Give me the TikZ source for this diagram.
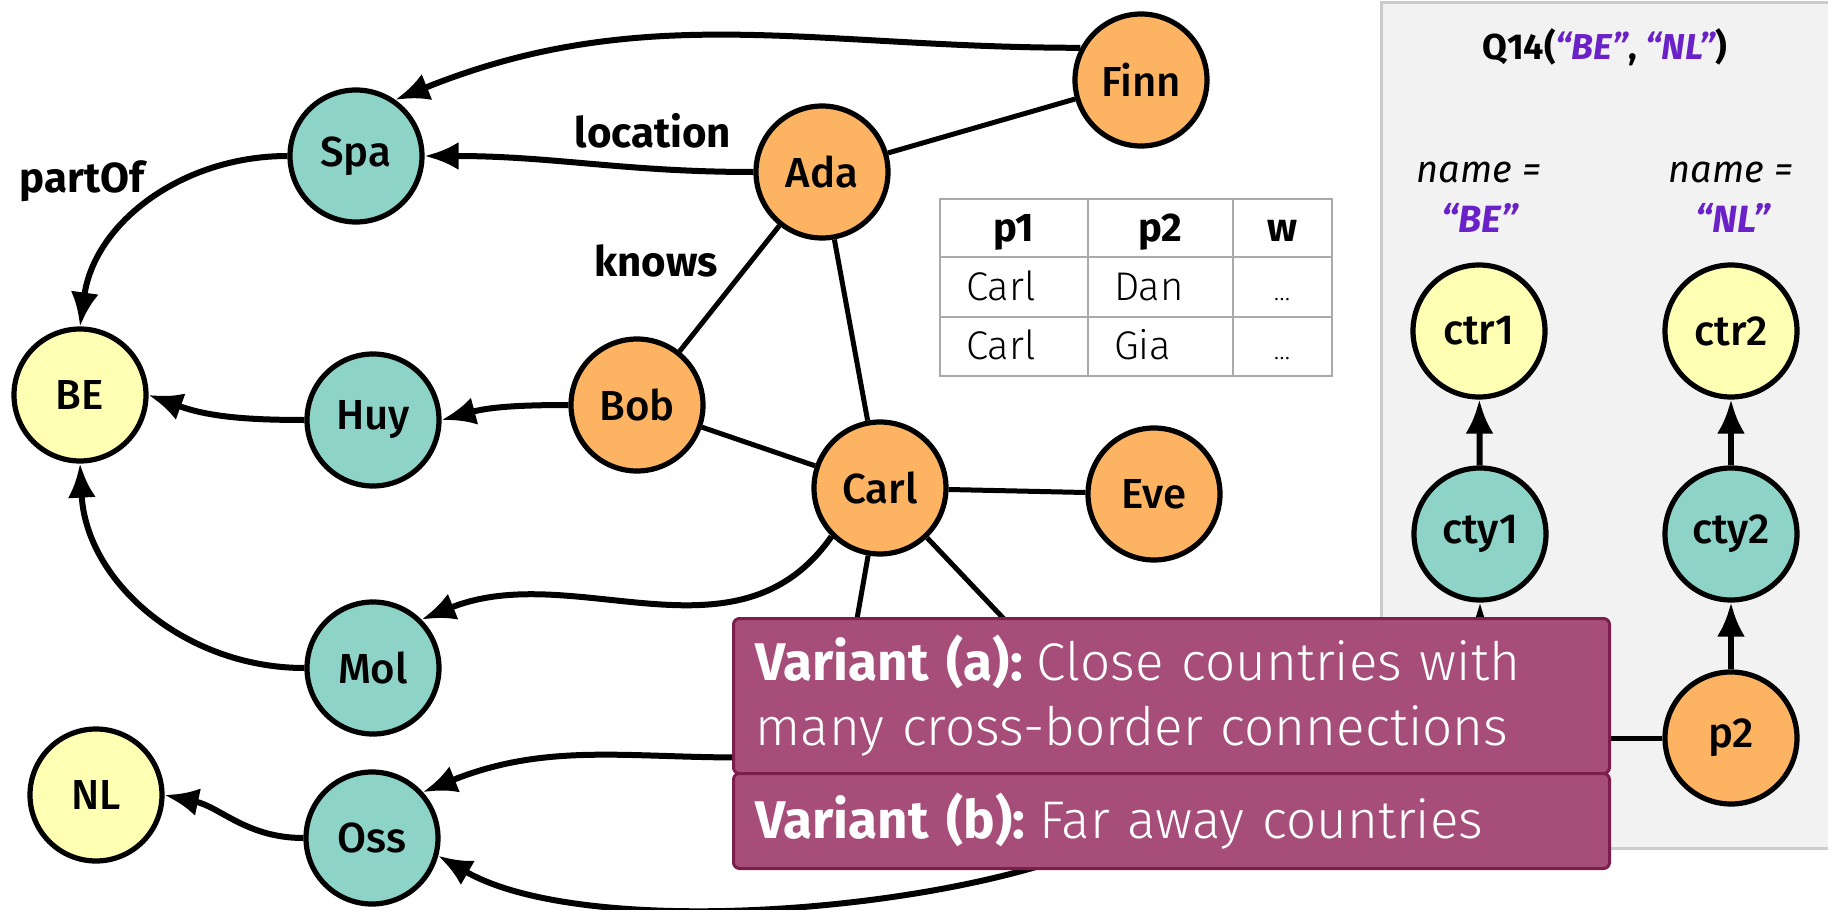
\documentclass[tikz,border=0pt]{standalone}
\usepackage{fontspec}
\setmainfont{Fira Sans}
\newfontfamily\medfont{Fira Sans Medium}
\newfontfamily\lightfont{Fira Sans Light}
\usetikzlibrary{arrows.meta}
\definecolor{personcol}{HTML}{FDB462}
\definecolor{citycol}{HTML}{8DD3C7}
\definecolor{countrycol}{HTML}{FFFFB3}
\definecolor{varfill}{HTML}{A64D79}
\definecolor{vardraw}{HTML}{7B1E4E}
\definecolor{paramcol}{HTML}{6A22C8}
\definecolor{panelfill}{HTML}{F2F2F2}
\definecolor{panelline}{HTML}{CCCCCC}
\definecolor{tabline}{HTML}{AAAAAA}

\begin{document}
\begin{tikzpicture}[x=0.5pt,y=0.5pt,
  vertex/.style={circle,draw=black,line width=2.6pt,minimum size=66pt,
    inner sep=0pt,font=\medfont\fontsize{21}{25}\selectfont},
  person/.style={vertex,fill=personcol},
  city/.style={vertex,fill=citycol},
  country/.style={vertex,fill=countrycol},
  rel/.style={line width=3pt,-{Latex[length=17pt,width=14pt]}},
  knows/.style={line width=2.5pt},
  edgelabel/.style={font=\bfseries\fontsize{21}{25}\selectfont},
  tabhead/.style={font=\bfseries\fontsize{20}{24}\selectfont,anchor=base},
  tabcell/.style={font=\lightfont\fontsize{20}{24}\selectfont,anchor=base west},
  tabdots/.style={font=\lightfont\fontsize{13}{16}\selectfont,anchor=base},
  varbox/.style={draw=vardraw,fill=varfill,line width=1.5pt,rounded corners=3pt,
    anchor=north west,inner xsep=11pt,text width=416pt,align=left,
    text=white,font=\fontsize{26.5}{32.5}\selectfont}]

  \useasboundingbox (0,0) rectangle (1828,-910);

  %% query panel
  \draw[panelline,fill=panelfill,line width=1.5pt] (1381,-2) rectangle (1840,-848);

  %% result table
  \draw[tabline,line width=1.2pt,fill=white] (940,-199) rectangle (1332,-376);
  \draw[tabline,line width=1.2pt] (1088,-199) -- (1088,-376)
    (1233,-199) -- (1233,-376) (940,-257) -- (1332,-257) (940,-317) -- (1332,-317);
  \node[tabhead] (tp1) at (1014,-241) {p1};
  \node[tabhead] (tp2) at (1160,-241) {p2};
  \node[tabhead] (tw) at (1282,-241) {w};
  \node[tabcell] (ra1) at (959,-300) {Carl};
  \node[tabcell] (ra2) at (1107,-300) {Dan};
  \node[tabdots] (ra3) at (1282,-300) {…};
  \node[tabcell] (rb1) at (959,-359) {Carl};
  \node[tabcell] (rb2) at (1107,-359) {Gia};
  \node[tabdots] (rb3) at (1282,-359) {…};

  %% data graph
  \node[city] (Spa) at (356,-156) {Spa};
  \node[person] (Ada) at (822,-172) {Ada};
  \node[person] (Finn) at (1141,-80) {Finn};
  \node[country] (BE) at (80,-395) {BE};
  \node[city] (Huy) at (373,-420) {Huy};
  \node[person] (Bob) at (637,-405) {Bob};
  \node[person] (Carl) at (880,-488) {Carl};
  \node[person] (Eve) at (1154,-494) {Eve};
  \node[city] (Mol) at (373,-668) {Mol};
  \node[country] (NL) at (96,-795) {NL};
  \node[city] (Oss) at (372,-838) {Oss};

  %% hidden ends under the variant box
  \coordinate (hDan) at (848,-670);
  \coordinate (hGia) at (1040,-657);
  \coordinate (hOssA) at (800,-756);
  \coordinate (hOssB) at (1110,-840);

  %% edge labels
  \node[edgelabel] (lloc) at (653,-131) {location};
  \node[edgelabel] (lknows) at (656,-261) {knows};
  \node[edgelabel] (lpart) at (82,-181) {partOf};

  %% knows edges
  \draw[knows] (Ada) -- (Finn);
  \draw[knows] (Ada) -- (Bob);
  \draw[knows] (Ada) -- (Carl);
  \draw[knows] (Bob) -- (Carl);
  \draw[knows] (Carl) -- (Eve);
  \draw[knows] (Carl) -- (hDan);
  \draw[knows] (Carl) -- (hGia);

  %% location / partOf edges
  \draw[rel] (Finn.152) to[out=180,in=22] (Spa.55);
  \draw[rel] (Ada.west) to[out=180,in=0] (Spa.east);
  \draw[rel] (Spa.west) to[out=180,in=82] (BE.north);
  \draw[rel] (Huy.west) to[out=180,in=-20] (BE.east);
  \draw[rel] (Bob.west) to[out=180,in=15] (Huy.east);
  \draw[rel] (Mol.west) to[out=180,in=-87] (BE.south);
  \draw[rel] (Carl.225) to[out=235,in=22] (Mol.45);
  \draw[rel] (Oss.west) to[out=180,in=-12] (NL.east);
  \draw[rel] (hOssA) to[out=183,in=22] (Oss.42);
  \draw[rel] (hOssB) to[out=-155,in=-30,looseness=0.65] (Oss.-15);

  %% query pattern
  \node[country] (ctr1) at (1479,-331) {ctr1};
  \node[country] (ctr2) at (1731,-331) {ctr2};
  \node[city] (cty1) at (1480,-534) {cty1};
  \node[city] (cty2) at (1731,-534) {cty2};
  \node[person] (p2) at (1731,-738) {p2};
  \coordinate (p1) at (1480,-738);
  \draw[rel] (cty1) -- (ctr1);
  \draw[rel] (cty2) -- (ctr2);
  \draw[rel] (p2) -- (cty2);
  \draw[rel] (p1) -- (cty1);
  \draw[knows] (p2) -- (p1);

  \node[font=\bfseries\fontsize{18}{22}\selectfont] (qtitle) at (1605,-47)
    {Q14(\textcolor{paramcol}{\itshape “BE”}, \textcolor{paramcol}{\itshape “NL”})};
  \node[font=\itshape\fontsize{19}{23}\selectfont] (name1) at (1479,-172) {name =};
  \node[font=\bfseries\itshape\fontsize{19}{23}\selectfont,text=paramcol] (val1) at (1480,-218) {“BE”};
  \node[font=\itshape\fontsize{19}{23}\selectfont] (name2) at (1731,-172) {name =};
  \node[font=\bfseries\itshape\fontsize{19}{23}\selectfont,text=paramcol] (val2) at (1733,-218) {“NL”};

  %% variants
  \node[varbox,minimum height=77.5pt] (varA) at (732,-617)
    {\textbf{Variant (a):}\hspace{7pt}{\lightfont Close countries with}\\
     {\lightfont many cross-border connections}};
  \node[varbox,minimum height=47.5pt] (varB) at (732,-772)
    {\textbf{Variant (b):}\hspace{7pt}{\lightfont Far away countries}};

\end{tikzpicture}
\end{document}
